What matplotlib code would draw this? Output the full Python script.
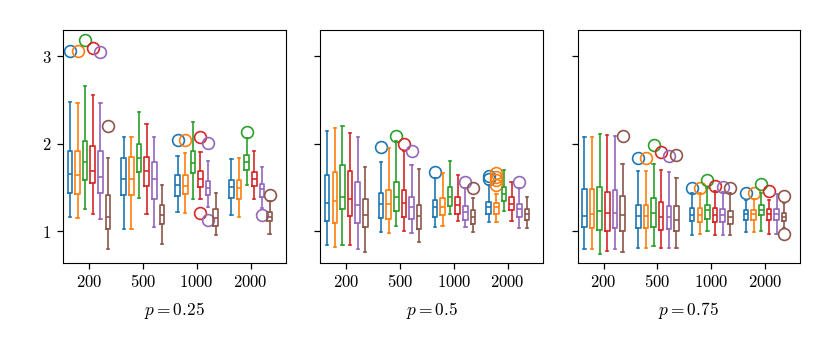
import numpy as np
import matplotlib
matplotlib.use("Agg")
import matplotlib.pyplot as plt

plt.rcParams['mathtext.fontset'] = 'cm'
plt.rcParams['font.family'] = 'serif'
plt.rcParams['font.size'] = 12

# x categories (sample sizes) and panel labels
sizes = ['200', '500', '1000', '2000']
panels = ['0.25', '0.5', '0.75']
colors = ['tab:blue', 'tab:orange', 'tab:green', 'tab:red', 'tab:purple', 'tab:brown']

# --- p = 0.25 : rows = sizes, columns = the 6 series ---
hi_025 = [[2.47, 2.46, 2.66, 2.55, 2.46, 1.84],
          [2.08, 2.07, 2.36, 2.22, 2.07, 1.53],
          [1.86, 1.89, 2.25, 1.90, 1.80, 1.43],
          [1.82, 1.84, 2.06, 1.91, 1.73, 1.34]]
q3_025 = [[1.92, 1.91, 2.03, 1.975, 1.91, 1.41],
          [1.84, 1.85, 1.99, 1.85, 1.79, 1.30],
          [1.64, 1.64, 1.91, 1.69, 1.57, 1.25],
          [1.58, 1.58, 1.87, 1.68, 1.54, 1.22]]
med_025 = [[1.65, 1.64, 1.79, 1.69, 1.62, 1.16],
           [1.60, 1.59, 1.84, 1.69, 1.59, 1.18],
           [1.53, 1.51, 1.78, 1.60, 1.49, 1.15],
           [1.50, 1.49, 1.79, 1.60, 1.48, 1.16]]
q1_025 = [[1.43, 1.42, 1.58, 1.545, 1.43, 1.02],
          [1.41, 1.41, 1.68, 1.51, 1.37, 1.08],
          [1.40, 1.42, 1.66, 1.50, 1.41, 1.06],
          [1.38, 1.37, 1.70, 1.51, 1.39, 1.11]]
lo_025 = [[1.16, 1.15, 1.25, 1.19, 1.14, 0.80],
          [1.02, 1.02, 1.38, 1.19, 1.05, 0.85],
          [1.22, 1.21, 1.37, 1.37, 1.28, 0.96],
          [1.18, 1.16, 1.53, 1.37, 1.26, 0.97]]
fl_025 = [[[3.06], [3.06], [3.18], [3.09], [3.05], [2.20]],
          [[], [], [], [], [], []],
          [[2.04], [2.04], [], [2.08, 1.21], [2.01, 1.13], []],
          [[], [], [2.13], [], [1.18], [1.41]]]

# --- p = 0.5 ---
hi_05 = [[2.14, 2.18, 2.20, 2.12, 2.08, 1.73],
         [1.79, 1.95, 2.03, 1.91, 1.75, 1.71],
         [1.61, 1.66, 1.80, 1.64, 1.49, 1.38],
         [1.53, 1.42, 1.70, 1.56, 1.49, 1.39]]
q3_05 = [[1.64, 1.67, 1.75, 1.69, 1.56, 1.37],
         [1.44, 1.47, 1.56, 1.47, 1.39, 1.30],
         [1.36, 1.38, 1.50, 1.39, 1.29, 1.24],
         [1.33, 1.32, 1.50, 1.39, 1.31, 1.25]]
med_05 = [[1.32, 1.34, 1.39, 1.37, 1.30, 1.18],
          [1.31, 1.31, 1.39, 1.32, 1.27, 1.17],
          [1.27, 1.28, 1.39, 1.30, 1.22, 1.16],
          [1.27, 1.27, 1.42, 1.31, 1.25, 1.19]]
q1_05 = [[1.11, 1.09, 1.25, 1.17, 1.09, 1.05],
         [1.15, 1.14, 1.23, 1.16, 1.14, 1.02],
         [1.16, 1.18, 1.29, 1.20, 1.13, 1.08],
         [1.20, 1.20, 1.34, 1.24, 1.16, 1.13]]
lo_05 = [[0.84, 0.82, 0.84, 0.84, 0.79, 0.76],
         [0.99, 0.98, 1.06, 1.00, 0.98, 0.87],
         [1.05, 1.06, 1.19, 1.11, 1.05, 0.99],
         [1.10, 1.10, 1.23, 1.12, 1.04, 1.03]]
fl_05 = [[[], [], [], [], [], []],
         [[1.96], [], [2.09], [1.99], [1.92], []],
         [[1.68], [], [], [], [1.56], [1.49]],
         [[1.63, 1.60], [1.66, 1.62, 1.58, 1.53], [], [], [1.56], []]]

# --- p = 0.75 ---
hi_075 = [[2.07, 2.07, 2.11, 2.10, 2.09, 1.77],
          [1.69, 1.69, 1.77, 1.70, 1.67, 1.61],
          [1.43, 1.43, 1.49, 1.46, 1.45, 1.44],
          [1.35, 1.37, 1.43, 1.36, 1.42, 1.32]]
q3_075 = [[1.48, 1.48, 1.50, 1.45, 1.47, 1.40],
          [1.30, 1.30, 1.38, 1.33, 1.29, 1.29],
          [1.26, 1.26, 1.30, 1.26, 1.25, 1.23],
          [1.24, 1.24, 1.30, 1.25, 1.25, 1.21]]
med_075 = [[1.17, 1.20, 1.23, 1.21, 1.21, 1.18],
           [1.17, 1.17, 1.21, 1.16, 1.16, 1.13],
           [1.18, 1.18, 1.24, 1.18, 1.18, 1.16],
           [1.19, 1.19, 1.24, 1.19, 1.19, 1.16]]
q1_075 = [[1.05, 1.04, 1.01, 1.00, 1.03, 1.00],
          [1.03, 1.03, 1.05, 1.01, 1.02, 1.00],
          [1.11, 1.10, 1.14, 1.10, 1.10, 1.08],
          [1.13, 1.13, 1.18, 1.13, 1.13, 1.12]]
lo_075 = [[0.80, 0.80, 0.74, 0.77, 0.79, 0.76],
          [0.81, 0.81, 0.83, 0.81, 0.81, 0.81],
          [0.96, 0.97, 1.00, 0.95, 0.95, 0.95],
          [0.99, 0.99, 1.00, 0.97, 0.97, 1.03]]
fl_075 = [[[], [], [], [], [], [2.09]],
          [[1.84], [1.83], [1.98], [1.90], [1.86], [1.87]],
          [[1.49], [1.49], [1.58], [1.51], [1.50], [1.49]],
          [[1.44], [1.44], [1.54], [1.46], [], [1.40, 0.97]]]

panel_data = [
    (hi_025, q3_025, med_025, q1_025, lo_025, fl_025),
    (hi_05, q3_05, med_05, q1_05, lo_05, fl_05),
    (hi_075, q3_075, med_075, q1_075, lo_075, fl_075),
]

fig = plt.figure(figsize=(8.3, 3.46), dpi=100)
lefts = [0.076, 0.386, 0.696]
axes = []
for i in range(3):
    ax = fig.add_axes([lefts[i], 0.241, 0.268, 0.673], sharey=axes[0] if axes else None)
    axes.append(ax)

step = 0.1415
offsets = (np.arange(6) - 2.5) * step

for ax, (hi, q3, med, q1, lo, fl), p in zip(axes, panel_data, panels):
    for s in range(6):
        stats = []
        for g in range(4):
            stats.append(dict(med=med[g][s], q1=q1[g][s], q3=q3[g][s],
                              whislo=lo[g][s], whishi=hi[g][s], fliers=fl[g][s]))
        c = colors[s]
        lw = 1.2
        ax.bxp(stats, positions=np.arange(4) + offsets[s], widths=0.085,
               showfliers=True, manage_ticks=False,
               boxprops=dict(color=c, linewidth=lw),
               medianprops=dict(color=c, linewidth=lw),
               whiskerprops=dict(color=c, linewidth=lw),
               capprops=dict(color=c, linewidth=lw),
               flierprops=dict(marker='o', markersize=8.5, markerfacecolor='none',
                               markeredgecolor=c, markeredgewidth=1.2))
    ax.set_xlim(-0.48, 3.65)
    ax.set_xticks(np.arange(4))
    ax.set_xticklabels(['$%s$' % s for s in sizes])
    ax.set_xlabel('$p = %s$' % p, fontsize=12.5, labelpad=6)
    ax.tick_params(labelsize=12, length=4, width=0.9, pad=4.5)

axes[0].set_ylim(0.64, 3.30)
axes[0].set_yticks([1, 2, 3])
axes[0].set_yticklabels(['$1$', '$2$', '$3$'])
for ax in axes[1:]:
    ax.tick_params(labelleft=False)

fig.savefig('out.png', dpi=100)
